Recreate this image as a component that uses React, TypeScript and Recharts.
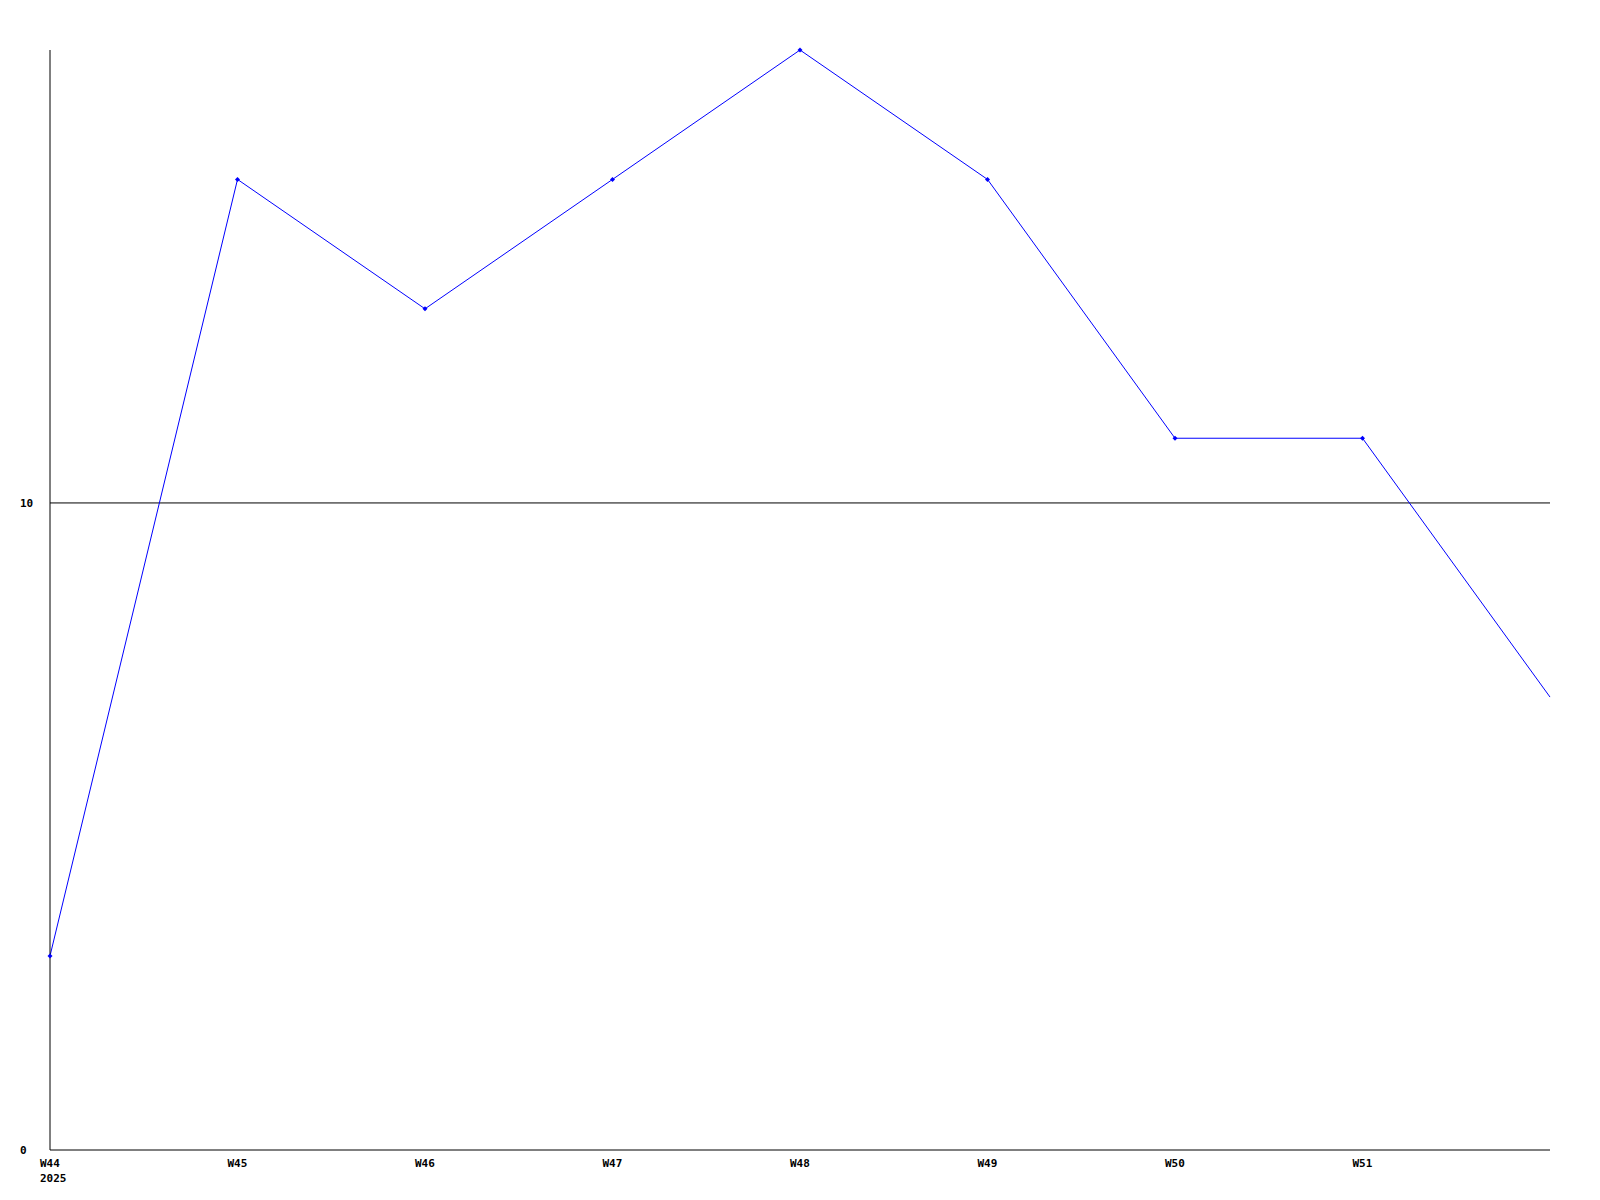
import React from 'react';
import { LineChart, Line, XAxis, YAxis, ReferenceLine } from 'recharts';

const weeks = ['W44', 'W45', 'W46', 'W47', 'W48', 'W49', 'W50', 'W51', 'W52'];
const counts = [3, 15, 13, 15, 17, 15, 11, 11, 7];
const labeledWeeks = ['W44', 'W45', 'W46', 'W47', 'W48', 'W49', 'W50', 'W51'];
const yTicks = [0, 10];
const gridValue = 10;
const yearLabel = '2025';

const data = weeks.map((w, i) => ({ week: w, value: counts[i] }));

const FONT = '"DejaVu Sans Mono", "Liberation Mono", monospace';

const XTick = (props: any) => {
  const { x, y, payload, index } = props;
  return (
    <g>
      <text x={x - 10} y={y + 9} textAnchor="start" fontFamily={FONT} fontSize={11} fontWeight="bold" fill="#000">
        {payload.value}
      </text>
      {index === 0 && (
        <text x={x - 10} y={y + 24} textAnchor="start" fontFamily={FONT} fontSize={11} fontWeight="bold" fill="#000">
          {yearLabel}
        </text>
      )}
    </g>
  );
};

const YTick = (props: any) => {
  const { y, payload } = props;
  return (
    <text x={20} y={y + 4} textAnchor="start" fontFamily={FONT} fontSize={11} fontWeight="bold" fill="#000">
      {payload.value}
    </text>
  );
};

const Diamond = (props: any) => {
  const { cx, cy, index } = props;
  if (index === weeks.length - 1 || cx == null) return <g key={`d-${index}`} />;
  return (
    <polygon
      key={`d-${index}`}
      points={`${cx},${cy - 2.5} ${cx + 2.5},${cy} ${cx},${cy + 2.5} ${cx - 2.5},${cy}`}
      fill="#0000ff"
    />
  );
};

const App: React.FC = () => {
  return (
    <div style={{ position: 'absolute', left: 0, top: 0, width: 1600, height: 1200, background: '#fff' }}>
      <LineChart width={1600} height={1200} data={data} margin={{ top: 50, right: 50, bottom: 0, left: 20 }}>
        <ReferenceLine y={gridValue} stroke="#000" strokeWidth={1} />
        <XAxis
          dataKey="week"
          height={50}
          ticks={labeledWeeks}
          interval={0}
          tickLine={false}
          stroke="#000"
          tick={<XTick />}
          padding={{ left: 0, right: 0 }}
        />
        <YAxis
          width={30}
          domain={[0, 17]}
          ticks={yTicks}
          tickLine={false}
          stroke="#000"
          tick={<YTick />}
        />
        <Line
          type="linear"
          dataKey="value"
          stroke="#0000ff"
          strokeWidth={1}
          dot={<Diamond />}
          activeDot={false}
          isAnimationActive={false}
        />
      </LineChart>
    </div>
  );
};

export default App;
